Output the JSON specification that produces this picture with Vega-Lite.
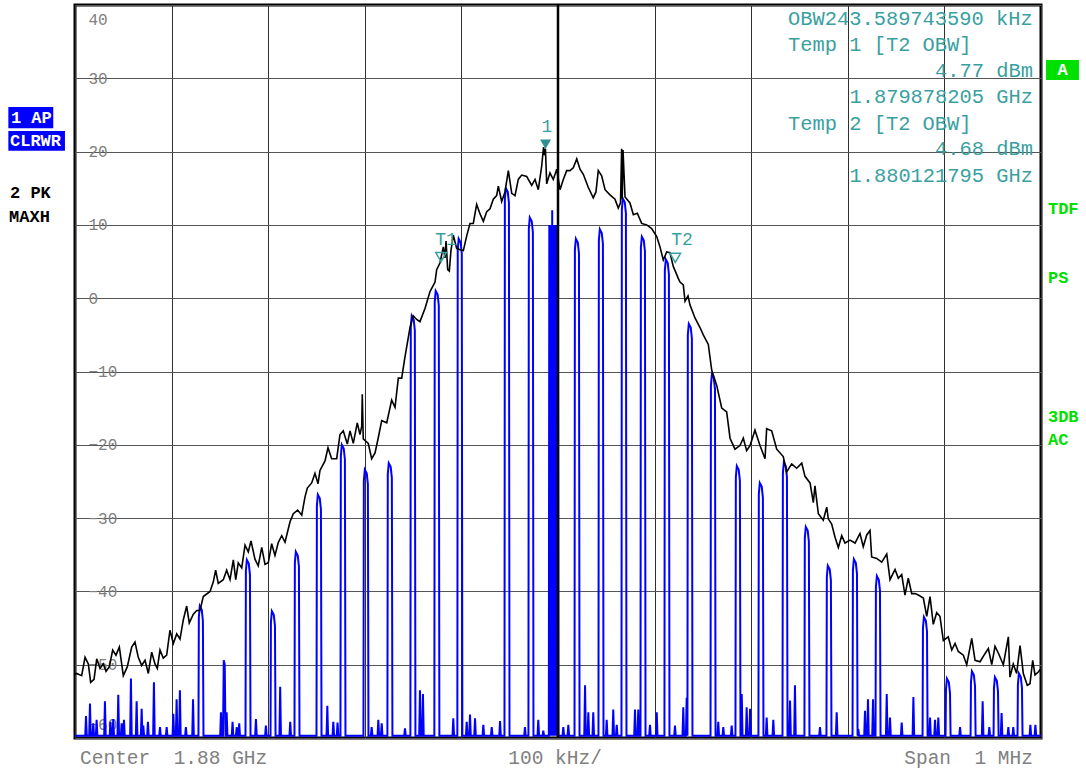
{
"$schema": "https://vega.github.io/schema/vega-lite/v6.json",
"width": 966, "height": 733,
"autosize": {"type": "none"},
"padding": {"left": 75, "top": 5, "right": 45, "bottom": 31},
"background": "white",
"config": {"view": {"stroke": "black", "strokeWidth": 3}, "font": "Liberation Mono"},
"datasets": {
"clrwr": [
{"f":-500,"p":-59.7},
{"f":-489.4,"p":-59.7},{"f":-488.6,"p":-57},{"f":-487.8,"p":-59.7},
{"f":-485.3,"p":-59.7},{"f":-484.5,"p":-55.3},{"f":-483.7,"p":-59.7},
{"f":-481.9,"p":-59.7},{"f":-481.1,"p":-58},{"f":-480.3,"p":-59.7},
{"f":-478.4,"p":-59.7},{"f":-477.6,"p":-57.5},{"f":-476.8,"p":-59.7},
{"f":-469.8,"p":-59.7},{"f":-469,"p":-55},{"f":-468.2,"p":-59.7},
{"f":-464.1,"p":-59.7},{"f":-463.3,"p":-57.8},{"f":-462.5,"p":-59.7},
{"f":-461.2,"p":-59.7},{"f":-460.4,"p":-57.4},{"f":-459.6,"p":-59.7},
{"f":-456,"p":-59.7},{"f":-455.2,"p":-54.1},{"f":-454.4,"p":-59.7},
{"f":-452.5,"p":-59.7},{"f":-451.7,"p":-58},{"f":-450.9,"p":-59.7},
{"f":-450.1,"p":-59.7},{"f":-449.3,"p":-57.5},{"f":-448.5,"p":-59.7},
{"f":-442.9,"p":-59.7},{"f":-442.1,"p":-51.9},{"f":-441.3,"p":-59.7},
{"f":-437,"p":-59.7},{"f":-436.2,"p":-55},{"f":-435.4,"p":-59.7},
{"f":-431.8,"p":-59.7},{"f":-431,"p":-56},{"f":-430.2,"p":-59.7},
{"f":-430.1,"p":-59.7},{"f":-429.3,"p":-58.3},{"f":-428.5,"p":-59.7},
{"f":-425.3,"p":-59.7},{"f":-424.5,"p":-57.8},{"f":-423.7,"p":-59.7},
{"f":-419.1,"p":-59.7},{"f":-418.3,"p":-52.4},{"f":-417.5,"p":-59.7},
{"f":-412.8,"p":-59.7},{"f":-412,"p":-58.5},{"f":-411.2,"p":-59.7},
{"f":-405.9,"p":-59.7},{"f":-405.1,"p":-58.5},{"f":-404.3,"p":-59.7},
{"f":-399,"p":-59.7},{"f":-398.2,"p":-56.7},{"f":-397.4,"p":-59.7},
{"f":-395.6,"p":-59.7},{"f":-394.8,"p":-54.7},{"f":-394,"p":-59.7},
{"f":-392.2,"p":-59.7},{"f":-391.4,"p":-53.5},{"f":-390.6,"p":-59.7},
{"f":-386,"p":-59.7},{"f":-385.2,"p":-58.5},{"f":-384.4,"p":-59.7},
{"f":-378.6,"p":-59.7},{"f":-377.8,"p":-54.7},{"f":-377,"p":-59.7},
{"f":-372.2,"p":-59.7},{"f":-371.8,"p":-43.5},{"f":-370.8,"p":-42},{"f":-368.8,"p":-42.5},{"f":-367.6,"p":-44},{"f":-367,"p":-59.7},
{"f":-349.7,"p":-59.7},{"f":-348.9,"p":-56.5},{"f":-348.1,"p":-59.7},
{"f":-346.8,"p":-59.7},{"f":-346,"p":-49.4},{"f":-345,"p":-50},{"f":-344.2,"p":-59.7},
{"f":-343.8,"p":-59.7},{"f":-343,"p":-56.5},{"f":-342.2,"p":-59.7},
{"f":-337.7,"p":-59.7},{"f":-336.9,"p":-57.8},{"f":-336.1,"p":-59.7},
{"f":-333.4,"p":-59.7},{"f":-332.6,"p":-58.5},{"f":-331.8,"p":-59.7},
{"f":-330.8,"p":-59.7},{"f":-330,"p":-58},{"f":-329.2,"p":-59.7},
{"f":-323.5,"p":-59.7},{"f":-323.1,"p":-37.2},{"f":-322.1,"p":-35.7},{"f":-320.1,"p":-36.2},{"f":-318.9,"p":-37.7},{"f":-318.3,"p":-59.7},
{"f":-313.5,"p":-59.7},{"f":-312.7,"p":-57.4},{"f":-311.9,"p":-59.7},
{"f":-303.2,"p":-59.7},{"f":-302.4,"p":-58.3},{"f":-301.6,"p":-59.7},
{"f":-297.6,"p":-59.7},{"f":-297.2,"p":-44.2},{"f":-296.2,"p":-42.7},{"f":-294.2,"p":-43.2},{"f":-293,"p":-44.7},{"f":-292.4,"p":-59.7},
{"f":-288.4,"p":-59.7},{"f":-287.6,"p":-53},{"f":-286.8,"p":-59.7},
{"f":-278,"p":-59.7},{"f":-277.2,"p":-57.8},{"f":-276.4,"p":-59.7},
{"f":-272.8,"p":-59.7},{"f":-272.4,"p":-36.1},{"f":-271.4,"p":-34.6},{"f":-269.4,"p":-35.1},{"f":-268.2,"p":-36.6},{"f":-267.6,"p":-59.7},
{"f":-250,"p":-59.7},{"f":-249.6,"p":-28.3},{"f":-248.6,"p":-26.8},{"f":-246.6,"p":-27.3},{"f":-245.4,"p":-28.8},{"f":-244.8,"p":-59.7},
{"f":-239.6,"p":-59.7},{"f":-238.8,"p":-55.6},{"f":-238,"p":-59.7},
{"f":-233.4,"p":-59.7},{"f":-232.6,"p":-57.8},{"f":-231.8,"p":-59.7},
{"f":-229,"p":-59.7},{"f":-228.2,"p":-57.9},{"f":-227.4,"p":-59.7},
{"f":-225.2,"p":-59.7},{"f":-224.8,"p":-21.5},{"f":-223.8,"p":-20},{"f":-221.8,"p":-20.5},{"f":-220.6,"p":-22},{"f":-220,"p":-59.7},
{"f":-201.4,"p":-59.7},{"f":-201,"p":-24.9},{"f":-200,"p":-23.4},{"f":-198,"p":-23.9},{"f":-196.8,"p":-25.4},{"f":-196.2,"p":-59.7},
{"f":-193.7,"p":-59.7},{"f":-192.9,"p":-58.5},{"f":-192.1,"p":-59.7},
{"f":-186.8,"p":-59.7},{"f":-186,"p":-57.5},{"f":-185.2,"p":-59.7},
{"f":-183.3,"p":-59.7},{"f":-182.5,"p":-58},{"f":-181.7,"p":-59.7},
{"f":-176.6,"p":-59.7},{"f":-176.2,"p":-24},{"f":-175.2,"p":-22.5},{"f":-173.2,"p":-23},{"f":-172,"p":-24.5},{"f":-171.4,"p":-59.7},
{"f":-159.2,"p":-59.7},{"f":-158.4,"p":-58.7},{"f":-157.6,"p":-59.7},
{"f":-152.8,"p":-59.7},{"f":-152.4,"p":-3.9},{"f":-151.4,"p":-2.4},{"f":-149.4,"p":-2.9},{"f":-148.2,"p":-4.4},{"f":-147.6,"p":-59.7},
{"f":-143.7,"p":-59.7},{"f":-142.9,"p":-53.5},{"f":-142.1,"p":-59.7},
{"f":-140.6,"p":-59.7},{"f":-139.8,"p":-54},{"f":-139,"p":-59.7},
{"f":-128,"p":-59.7},{"f":-127.6,"p":-0.5},{"f":-126.6,"p":1},{"f":-124.6,"p":0.5},{"f":-123.4,"p":-1},{"f":-122.8,"p":-59.7},
{"f":-109.2,"p":-59.7},{"f":-108.4,"p":-57.3},{"f":-107.6,"p":-59.7},
{"f":-104.2,"p":-59.7},{"f":-103.8,"p":6.6},{"f":-102.8,"p":8.1},{"f":-100.8,"p":7.6},{"f":-99.6,"p":6.1},{"f":-99,"p":-59.7},
{"f":-95.3,"p":-59.7},{"f":-94.5,"p":-57.8},{"f":-93.7,"p":-59.7},
{"f":-91.9,"p":-59.7},{"f":-91.1,"p":-56.8},{"f":-90.3,"p":-59.7},
{"f":-86.7,"p":-59.7},{"f":-85.9,"p":-57.3},{"f":-85.1,"p":-59.7},
{"f":-78.1,"p":-59.7},{"f":-77.3,"p":-58.2},{"f":-76.5,"p":-59.7},
{"f":-69.4,"p":-59.7},{"f":-68.6,"p":-58.5},{"f":-67.8,"p":-59.7},
{"f":-60.8,"p":-59.7},{"f":-60,"p":-57.7},{"f":-59.2,"p":-59.7},
{"f":-55.4,"p":-59.7},{"f":-55,"p":13.5},{"f":-54,"p":15},{"f":-52,"p":14.5},{"f":-50.8,"p":13},{"f":-50.2,"p":-59.7},
{"f":-35,"p":-59.7},{"f":-34.2,"p":-58.5},{"f":-33.4,"p":-59.7},
{"f":-30.6,"p":-59.7},{"f":-30.2,"p":9.5},{"f":-29.2,"p":11},{"f":-27.2,"p":10.5},{"f":-26,"p":9},{"f":-25.4,"p":-59.7},
{"f":-21.2,"p":-59.7},{"f":-20.4,"p":-57.5},{"f":-19.6,"p":-59.7},
{"f":-16,"p":-59.7},{"f":-15.2,"p":-59},{"f":-14.4,"p":-59.7},
{"f":-9.5,"p":-59.7},{"f":-9,"p":10},{"f":-8.5,"p":-59.7},{"f":-8,"p":10},{"f":-7.5,"p":-59.7},{"f":-7,"p":10},{"f":-6.5,"p":-59.7},{"f":-6,"p":12},{"f":-5.5,"p":-59.7},{"f":-5,"p":10},{"f":-4.5,"p":-59.7},{"f":-4,"p":10},{"f":-3.5,"p":-59.7},{"f":-3,"p":10},{"f":-2.5,"p":-59.7},{"f":-2,"p":10},{"f":-1.5,"p":-59.7},{"f":-1,"p":10},{"f":-0.5,"p":-59.7},{"f":0,"p":10},{"f":0.5,"p":-59.7},
{"f":4.7,"p":-59.7},{"f":5.5,"p":-58.5},{"f":6.3,"p":-59.7},
{"f":9.9,"p":-59.7},{"f":10.7,"p":-58.2},{"f":11.5,"p":-59.7},
{"f":17.1,"p":-59.7},{"f":17.5,"p":6.6},{"f":18.5,"p":8.1},{"f":20.5,"p":7.6},{"f":21.7,"p":6.1},{"f":22.3,"p":-59.7},
{"f":27.2,"p":-59.7},{"f":28,"p":-52.8},{"f":28.8,"p":-59.7},
{"f":30.6,"p":-59.7},{"f":31.4,"p":-56.5},{"f":32.2,"p":-59.7},
{"f":35.7,"p":-59.7},{"f":36.5,"p":-56.5},{"f":37.3,"p":-59.7},
{"f":41.9,"p":-59.7},{"f":42.3,"p":7.9},{"f":43.3,"p":9.4},{"f":45.3,"p":8.9},{"f":46.5,"p":7.4},{"f":47.1,"p":-59.7},
{"f":49.6,"p":-59.7},{"f":50.4,"p":-57.5},{"f":51.2,"p":-59.7},
{"f":56.4,"p":-59.7},{"f":57.2,"p":-56.1},{"f":58,"p":-59.7},
{"f":60,"p":-59.7},{"f":60.8,"p":-58.2},{"f":61.6,"p":-59.7},
{"f":65.7,"p":-59.7},{"f":66.1,"p":12.1},{"f":67.1,"p":13.6},{"f":69.1,"p":13.1},{"f":70.3,"p":11.6},{"f":70.9,"p":-59.7},
{"f":78.9,"p":-59.7},{"f":79.7,"p":-56.1},{"f":80.5,"p":-59.7},
{"f":82.3,"p":-59.7},{"f":83.1,"p":-56.1},{"f":83.9,"p":-59.7},
{"f":85.4,"p":-59.7},{"f":85.8,"p":6.9},{"f":86.8,"p":8.4},{"f":88.8,"p":7.9},{"f":90,"p":6.4},{"f":90.6,"p":-59.7},
{"f":94.4,"p":-59.7},{"f":95.2,"p":-58.2},{"f":96,"p":-59.7},
{"f":101.4,"p":-59.7},{"f":102.2,"p":-56.5},{"f":103,"p":-59.7},
{"f":110.2,"p":-59.7},{"f":110.6,"p":3.8},{"f":111.6,"p":5.3},{"f":113.6,"p":4.8},{"f":114.8,"p":3.3},{"f":115.4,"p":-59.7},
{"f":120.3,"p":-59.7},{"f":121.1,"p":-58.3},{"f":121.9,"p":-59.7},
{"f":128.9,"p":-59.7},{"f":129.7,"p":-55.8},{"f":130.5,"p":-59.7},
{"f":132.4,"p":-59.7},{"f":133.2,"p":-54.5},{"f":134,"p":-59.7},
{"f":134.4,"p":-5},{"f":135.4,"p":-3.5},{"f":137.4,"p":-4},{"f":138.6,"p":-5.5},{"f":139.2,"p":-59.7},
{"f":157.9,"p":-59.7},{"f":158.3,"p":-11.9},{"f":159.3,"p":-10.4},{"f":161.3,"p":-10.9},{"f":162.5,"p":-12.4},{"f":163.1,"p":-59.7},
{"f":165.1,"p":-59.7},{"f":165.9,"p":-57.8},{"f":166.7,"p":-59.7},
{"f":170.3,"p":-59.7},{"f":171.1,"p":-58.5},{"f":171.9,"p":-59.7},
{"f":179,"p":-59.7},{"f":179.8,"p":-58.3},{"f":180.6,"p":-59.7},
{"f":183.7,"p":-59.7},{"f":184.1,"p":-24.4},{"f":185.1,"p":-22.9},{"f":187.1,"p":-23.4},{"f":188.3,"p":-24.9},{"f":188.9,"p":-59.7},
{"f":189.4,"p":-59.7},{"f":190.2,"p":-54},{"f":191,"p":-59.7},
{"f":194.5,"p":-59.7},{"f":195.3,"p":-55.8},{"f":196.1,"p":-59.7},
{"f":198,"p":-59.7},{"f":198.8,"p":-56},{"f":199.6,"p":-59.7},
{"f":207.5,"p":-59.7},{"f":207.9,"p":-26.7},{"f":208.9,"p":-25.2},{"f":210.9,"p":-25.7},{"f":212.1,"p":-27.2},{"f":212.7,"p":-59.7},
{"f":215.2,"p":-59.7},{"f":216,"p":-57.2},{"f":216.8,"p":-59.7},
{"f":222.1,"p":-59.7},{"f":222.9,"p":-57.5},{"f":223.7,"p":-59.7},
{"f":232.4,"p":-59.7},{"f":232.8,"p":-23.9},{"f":233.8,"p":-22.4},{"f":235.8,"p":-22.9},{"f":237,"p":-24.4},{"f":237.6,"p":-59.7},
{"f":239.4,"p":-59.7},{"f":240.2,"p":-54.9},{"f":241,"p":-59.7},
{"f":244.5,"p":-59.7},{"f":245.3,"p":-52.8},{"f":246.1,"p":-59.7},
{"f":255.1,"p":-59.7},{"f":255.5,"p":-32.7},{"f":256.5,"p":-31.2},{"f":258.5,"p":-31.7},{"f":259.7,"p":-33.2},{"f":260.3,"p":-59.7},
{"f":270.4,"p":-59.7},{"f":271.2,"p":-58.5},{"f":272,"p":-59.7},
{"f":277.9,"p":-59.7},{"f":278.3,"p":-38},{"f":279.3,"p":-36.5},{"f":281.3,"p":-37},{"f":282.5,"p":-38.5},{"f":283.1,"p":-59.7},
{"f":287.7,"p":-59.7},{"f":288.5,"p":-56.5},{"f":289.3,"p":-59.7},
{"f":304.9,"p":-59.7},{"f":305.3,"p":-37.1},{"f":306.3,"p":-35.6},{"f":308.3,"p":-36.1},{"f":309.5,"p":-37.6},{"f":310.1,"p":-59.7},
{"f":310.9,"p":-58.8},{"f":311.7,"p":-59.7},
{"f":317,"p":-59.7},{"f":317.8,"p":-56.3},{"f":318.6,"p":-59.7},
{"f":320.1,"p":-59.7},{"f":320.9,"p":-54.7},{"f":321.7,"p":-59.7},
{"f":325.3,"p":-59.7},{"f":326.1,"p":-54.7},{"f":326.9,"p":-59.7},
{"f":328.7,"p":-59.7},{"f":329.1,"p":-39.4},{"f":330.1,"p":-37.9},{"f":332.1,"p":-38.4},{"f":333.3,"p":-39.9},{"f":333.9,"p":-59.7},
{"f":339.5,"p":-59.7},{"f":340.3,"p":-54},{"f":341.1,"p":-59.7},
{"f":342.9,"p":-59.7},{"f":343.7,"p":-57.2},{"f":344.5,"p":-59.7},
{"f":355,"p":-59.7},{"f":355.8,"p":-57.9},{"f":356.6,"p":-59.7},
{"f":367.1,"p":-59.7},{"f":367.9,"p":-54.4},{"f":368.7,"p":-59.7},
{"f":377.4,"p":-59.7},{"f":377.8,"p":-45},{"f":378.8,"p":-43.5},{"f":380.8,"p":-44},{"f":382,"p":-45.5},{"f":382.6,"p":-59.7},
{"f":384.3,"p":-59.7},{"f":385.1,"p":-57.2},{"f":385.9,"p":-59.7},
{"f":389.5,"p":-59.7},{"f":390.3,"p":-57.5},{"f":391.1,"p":-59.7},
{"f":392.9,"p":-59.7},{"f":393.7,"p":-57.2},{"f":394.5,"p":-59.7},
{"f":401.2,"p":-59.7},{"f":401.6,"p":-53.4},{"f":402.6,"p":-51.9},{"f":404.6,"p":-52.4},{"f":405.8,"p":-53.9},{"f":406.4,"p":-59.7},
{"f":415.4,"p":-59.7},{"f":416.2,"p":-58.5},{"f":417,"p":-59.7},
{"f":427.1,"p":-59.7},{"f":427.5,"p":-52.4},{"f":428.5,"p":-50.9},{"f":430.5,"p":-51.4},{"f":431.7,"p":-52.9},{"f":432.3,"p":-59.7},
{"f":438.8,"p":-59.7},{"f":439.6,"p":-55},{"f":440.4,"p":-59.7},
{"f":445.7,"p":-59.7},{"f":446.5,"p":-58.5},{"f":447.3,"p":-59.7},
{"f":450.9,"p":-59.7},{"f":451.3,"p":-53.2},{"f":452.3,"p":-51.7},{"f":454.3,"p":-52.2},{"f":455.5,"p":-53.7},{"f":456.1,"p":-59.7},
{"f":458.4,"p":-59.7},{"f":459.2,"p":-56.6},{"f":460,"p":-59.7},
{"f":465.4,"p":-59.7},{"f":466.2,"p":-58.5},{"f":467,"p":-59.7},
{"f":470.5,"p":-59.7},{"f":471.3,"p":-58.5},{"f":472.1,"p":-59.7},
{"f":475.7,"p":-59.7},{"f":476.1,"p":-52.7},{"f":477.1,"p":-51.2},{"f":479.1,"p":-51.7},{"f":480.3,"p":-53.2},{"f":480.9,"p":-59.7},
{"f":488.2,"p":-59.7},{"f":489,"p":-58.2},{"f":489.8,"p":-59.7},
{"f":493.4,"p":-59.7},{"f":494.2,"p":-58.2},{"f":495,"p":-59.7},
{"f":500,"p":-59.7}
],
"maxh": [
{"f":-500,"p":-51.3},{"f":-498.2,"p":-51.2},{"f":-493.1,"p":-51.5},{"f":-489.6,"p":-49},{"f":-486.2,"p":-49.9},{"f":-483.8,"p":-52.4},{"f":-480.3,"p":-52},{"f":-477.5,"p":-49.2},{"f":-474.1,"p":-50.5},{"f":-470.7,"p":-49.9},{"f":-467.9,"p":-50.9},{"f":-464.5,"p":-50.3},{"f":-461,"p":-48},{"f":-457.6,"p":-48.7},{"f":-454.1,"p":-47.6},{"f":-450,"p":-51.5},{"f":-445.9,"p":-50.3},{"f":-441.3,"p":-47.6},{"f":-437.9,"p":-46.9},{"f":-434.5,"p":-49},{"f":-431,"p":-50.1},{"f":-427.5,"p":-49.4},{"f":-424.1,"p":-51.2},{"f":-420.6,"p":-48.3},{"f":-417.2,"p":-49.9},{"f":-414.8,"p":-50.5},{"f":-412,"p":-48},{"f":-408.6,"p":-49.1},{"f":-405.1,"p":-48.7},{"f":-401.7,"p":-45.3},{"f":-398.2,"p":-47.1},{"f":-394.7,"p":-45.8},{"f":-391.3,"p":-46.5},{"f":-387.9,"p":-43.9},{"f":-384.4,"p":-42},{"f":-381.7,"p":-44.3},{"f":-377.5,"p":-43.1},{"f":-374,"p":-42.6},{"f":-370.6,"p":-42.6},{"f":-367.2,"p":-40.7},{"f":-360.2,"p":-40},{"f":-356.8,"p":-38.7},{"f":-354.4,"p":-37.1},{"f":-351.7,"p":-38.9},{"f":-346.5,"p":-38.4},{"f":-343,"p":-37.1},{"f":-339.5,"p":-38.4},{"f":-336.1,"p":-35.7},{"f":-333.6,"p":-38.4},{"f":-331,"p":-36.1},{"f":-327.4,"p":-36.8},{"f":-324,"p":-33.7},{"f":-320.6,"p":-34.6},{"f":-317.8,"p":-33.1},{"f":-313.7,"p":-35.6},{"f":-310.3,"p":-36.5},{"f":-306.7,"p":-34},{"f":-303.3,"p":-36.3},{"f":-299.9,"p":-36.1},{"f":-296.4,"p":-33.5},{"f":-293,"p":-35.1},{"f":-289.5,"p":-33.3},{"f":-286,"p":-32.4},{"f":-282.6,"p":-33.3},{"f":-277.4,"p":-30.5},{"f":-274,"p":-29.4},{"f":-269.5,"p":-28.9},{"f":-265.3,"p":-29.6},{"f":-261.9,"p":-27.1},{"f":-259.5,"p":-25.9},{"f":-255,"p":-25.2},{"f":-251.6,"p":-23.9},{"f":-248.4,"p":-25.3},{"f":-246.4,"p":-23.5},{"f":-241.2,"p":-22.2},{"f":-238.1,"p":-20.4},{"f":-234.3,"p":-21.9},{"f":-229.1,"p":-21.9},{"f":-225.7,"p":-18.6},{"f":-222.3,"p":-18.1},{"f":-218.1,"p":-19.9},{"f":-215.3,"p":-18.1},{"f":-211.9,"p":-19.8},{"f":-207.8,"p":-17},{"f":-205,"p":-18.6},{"f":-203.2,"p":-17.5},{"f":-202.6,"p":-13.1},{"f":-201.6,"p":-19.2},{"f":-196.4,"p":-19.8},{"f":-192.9,"p":-21.9},{"f":-189.4,"p":-21.1},{"f":-186,"p":-19},{"f":-182.5,"p":-16.7},{"f":-177.3,"p":-17},{"f":-172.2,"p":-13.9},{"f":-168.7,"p":-14.9},{"f":-165.3,"p":-10.9},{"f":-161.8,"p":-10.9},{"f":-158.4,"p":-8},{"f":-153.2,"p":-4},{"f":-149.8,"p":-2.4},{"f":-146.3,"p":-2.9},{"f":-142.9,"p":-3.2},{"f":-137.7,"p":-1.4},{"f":-132.5,"p":0.9},{"f":-127.3,"p":2.2},{"f":-125.6,"p":3.9},{"f":-122.2,"p":4.8},{"f":-118.7,"p":7},{"f":-117,"p":5.5},{"f":-115.9,"p":7.8},{"f":-114.2,"p":3.9},{"f":-112.5,"p":3.7},{"f":-110.8,"p":6.5},{"f":-108.4,"p":8.6},{"f":-104.9,"p":6.8},{"f":-101.4,"p":6.6},{"f":-98,"p":6.5},{"f":-94.5,"p":8.5},{"f":-91.1,"p":10.2},{"f":-87.7,"p":10.2},{"f":-84.2,"p":12.8},{"f":-80.7,"p":11.5},{"f":-77.3,"p":10.5},{"f":-73.8,"p":11.8},{"f":-70.4,"p":12.2},{"f":-67,"p":13.5},{"f":-63.5,"p":14},{"f":-61.8,"p":15.3},{"f":-58.3,"p":13.2},{"f":-54.9,"p":14.5},{"f":-51.4,"p":17.4},{"f":-47.9,"p":14.3},{"f":-44.5,"p":14},{"f":-41.1,"p":16.2},{"f":-37.6,"p":16.8},{"f":-32.4,"p":16.6},{"f":-27.2,"p":15.4},{"f":-23.8,"p":16.2},{"f":-20.4,"p":14.8},{"f":-16.9,"p":18},{"f":-15,"p":20.6},{"f":-14,"p":19.5},{"f":-13,"p":20.4},{"f":-11.7,"p":15.6},{"f":-8.3,"p":17.1},{"f":-4.9,"p":16.2},{"f":-1.3,"p":17.6},{"f":2.1,"p":14.8},{"f":5.5,"p":16.2},{"f":9,"p":17.4},{"f":12.4,"p":17.4},{"f":15.8,"p":17.8},{"f":19.4,"p":19},{"f":22.8,"p":17.6},{"f":26.2,"p":16.9},{"f":31.4,"p":15.1},{"f":36.5,"p":13.7},{"f":39.3,"p":14.5},{"f":41.7,"p":17.4},{"f":45.2,"p":16.7},{"f":48.7,"p":14.8},{"f":53.8,"p":14.1},{"f":59,"p":13.5},{"f":62.4,"p":12.3},{"f":64.7,"p":13},{"f":65.9,"p":20.4},{"f":66.5,"p":13.5},{"f":67.3,"p":20.2},{"f":69.4,"p":13.8},{"f":74.5,"p":13},{"f":78,"p":11.4},{"f":82.1,"p":11.6},{"f":86.6,"p":10.2},{"f":91.8,"p":10},{"f":97,"p":9.5},{"f":102.2,"p":8.4},{"f":105.6,"p":7},{"f":109,"p":5.2},{"f":112.5,"p":6.3},{"f":115.9,"p":6.2},{"f":119.4,"p":4.3},{"f":121.1,"p":3.8},{"f":124.5,"p":2.7},{"f":126.3,"p":2.2},{"f":129.7,"p":1.8},{"f":131.5,"p":-0.4},{"f":134.6,"p":0.3},{"f":136.6,"p":-0.9},{"f":141.8,"p":-2.7},{"f":147,"p":-4},{"f":150.4,"p":-5},{"f":155.6,"p":-6.3},{"f":159.1,"p":-9.8},{"f":164.3,"p":-11.9},{"f":169.5,"p":-15},{"f":174.6,"p":-15.5},{"f":178.1,"p":-19.1},{"f":183.2,"p":-20.6},{"f":188.4,"p":-20.1},{"f":191.8,"p":-19.1},{"f":195.3,"p":-20.8},{"f":198.8,"p":-20.1},{"f":203.9,"p":-18},{"f":209.1,"p":-20.1},{"f":214.3,"p":-21.9},{"f":216,"p":-17.8},{"f":221.2,"p":-18.1},{"f":226.4,"p":-20.6},{"f":233.2,"p":-21.6},{"f":236.7,"p":-23.7},{"f":241.9,"p":-22.6},{"f":247.1,"p":-23.2},{"f":252.3,"p":-22.5},{"f":255.7,"p":-24.3},{"f":260.9,"p":-25.2},{"f":264.3,"p":-27.9},{"f":266,"p":-25.6},{"f":269.5,"p":-29.4},{"f":274.6,"p":-30.3},{"f":278.2,"p":-28.5},{"f":279.8,"p":-30.1},{"f":283.3,"p":-30.8},{"f":286.8,"p":-32.6},{"f":290.2,"p":-34},{"f":293.7,"p":-32.4},{"f":297.1,"p":-33.4},{"f":302.3,"p":-33},{"f":307.5,"p":-33.4},{"f":312.6,"p":-32.1},{"f":316,"p":-33.9},{"f":319.6,"p":-32.3},{"f":323,"p":-31.7},{"f":324.7,"p":-35.3},{"f":329.9,"p":-35.5},{"f":335.1,"p":-36},{"f":340.3,"p":-34.9},{"f":343.7,"p":-38.4},{"f":348.9,"p":-37},{"f":352.3,"p":-38.2},{"f":355.8,"p":-37.7},{"f":359.2,"p":-40.5},{"f":362.6,"p":-38.2},{"f":366.2,"p":-40.3},{"f":369.6,"p":-40.3},{"f":373,"p":-40.5},{"f":378.2,"p":-40.9},{"f":381.7,"p":-43.4},{"f":385.1,"p":-40.7},{"f":388.5,"p":-44.5},{"f":392,"p":-42.9},{"f":395.4,"p":-43.4},{"f":398.9,"p":-46.7},{"f":404,"p":-46.2},{"f":407.6,"p":-48},{"f":411,"p":-47.1},{"f":414.4,"p":-48.2},{"f":419.6,"p":-48.7},{"f":423.1,"p":-50},{"f":428.3,"p":-46.4},{"f":431.7,"p":-49.4},{"f":436.9,"p":-49.6},{"f":442,"p":-48.5},{"f":445.5,"p":-47.8},{"f":449,"p":-50},{"f":452.4,"p":-47.5},{"f":455.8,"p":-48.4},{"f":461,"p":-50},{"f":466.2,"p":-46.2},{"f":467.9,"p":-51.7},{"f":471.3,"p":-49.9},{"f":474.8,"p":-51.2},{"f":478.3,"p":-47.4},{"f":481.7,"p":-51.2},{"f":485.8,"p":-52.8},{"f":488.6,"p":-52.6},{"f":491.4,"p":-49.4},{"f":493.8,"p":-51.4},{"f":497.2,"p":-51},{"f":500,"p":-50.5}
]
},
"layer": [
{"data": {"name": "clrwr"},
 "mark": {"type": "line", "color": "#0000ff", "strokeWidth": 2, "clip": true},
 "encoding": {
  "x": {"field": "f", "type": "quantitative", "scale": {"domain": [-500, 500], "nice": false, "zero": false},
        "axis": {"values": [-500,-400,-300,-200,-100,0,100,200,300,400,500], "grid": true, "gridColor": "#303030", "gridWidth": 1, "labels": false, "ticks": false, "domain": false, "title": null}},
  "y": {"field": "p", "type": "quantitative", "scale": {"domain": [-60, 40], "nice": false, "zero": false},
        "axis": {"values": [-60,-50,-40,-30,-20,-10,0,10,20,30,40], "grid": true, "gridColor": "#555555", "gridWidth": 1, "ticks": false, "tickSize": 0, "domain": false, "title": null,
                 "labelAlign": "left", "labelPadding": -13, "labelFont": "Liberation Mono", "labelFontSize": 16, "labelColor": "#808080",
                 "labelOffset": {"condition": [{"test": "datum.value == 40", "value": 14}, {"test": "datum.value == -60", "value": -14}], "value": 0}}}
 }},
{"data": {"name": "maxh"},
 "mark": {"type": "line", "color": "#000000", "strokeWidth": 1.6, "clip": true},
 "encoding": {"x": {"field": "f", "type": "quantitative"}, "y": {"field": "p", "type": "quantitative"}}},
{"data": {"values": [{}]},
 "mark": {"type": "rule", "color": "#000000", "strokeWidth": 2.5},
 "encoding": {"x": {"datum": 0}}},
{"data": {"values": [{}]},
 "mark": {"type": "point", "shape": "triangle-down", "filled": true, "color": "#2f9090", "size": 120, "opacity": 1},
 "encoding": {"x": {"datum": -12.9}, "y": {"datum": 21.0}}},
{"data": {"values": [{}]},
 "mark": {"type": "point", "shape": "triangle-down", "filled": false, "color": "#3a9f9f", "strokeWidth": 1.5, "size": 110, "opacity": 1},
 "encoding": {"x": {"datum": -121.1}, "y": {"datum": 5.6}}},
{"data": {"values": [{}]},
 "mark": {"type": "point", "shape": "triangle-down", "filled": false, "color": "#3a9f9f", "strokeWidth": 1.5, "size": 110, "opacity": 1},
 "encoding": {"x": {"datum": 121.4}, "y": {"datum": 5.5}}},
{"data": {"values": [{}]},
 "mark": {"type": "text", "text": "1", "font": "Liberation Mono", "fontSize": 18, "color": "#3a9f9f", "align": "center", "baseline": "middle"},
 "encoding": {"x": {"datum": -11.4}, "y": {"datum": 23.4}}},
{"data": {"values": [{}]},
 "mark": {"type": "text", "text": "T1", "font": "Liberation Mono", "fontSize": 18, "color": "#3a9f9f", "align": "center", "baseline": "middle"},
 "encoding": {"x": {"datum": -116}, "y": {"datum": 7.9}}},
{"data": {"values": [{}]},
 "mark": {"type": "text", "text": "T2", "font": "Liberation Mono", "fontSize": 18, "color": "#3a9f9f", "align": "center", "baseline": "middle"},
 "encoding": {"x": {"datum": 128.4}, "y": {"datum": 7.9}}},
{"data": {"values": [{}]},
 "mark": {"type": "text", "text": ["OBW243.589743590 kHz", "Temp 1 [T2 OBW]"],
          "font": "Liberation Mono", "fontSize": 20.4, "lineHeight": 26.1, "color": "#3a9f9f", "align": "left", "baseline": "alphabetic"},
 "encoding": {"x": {"datum": 238.1}, "y": {"datum": 37.27}}},
{"data": {"values": [{}]},
 "mark": {"type": "text", "text": "Temp 2 [T2 OBW]",
          "font": "Liberation Mono", "fontSize": 20.4, "color": "#3a9f9f", "align": "left", "baseline": "alphabetic"},
 "encoding": {"x": {"datum": 238.1}, "y": {"datum": 22.95}}},
{"data": {"values": [{}]},
 "mark": {"type": "text", "text": ["4.77 dBm", "1.879878205 GHz"],
          "font": "Liberation Mono", "fontSize": 20.4, "lineHeight": 26.1, "color": "#3a9f9f", "align": "right", "baseline": "alphabetic"},
 "encoding": {"x": {"datum": 491.7}, "y": {"datum": 30.15}}},
{"data": {"values": [{}]},
 "mark": {"type": "text", "text": ["4.68 dBm", "1.880121795 GHz"],
          "font": "Liberation Mono", "fontSize": 20.4, "lineHeight": 26.1, "color": "#3a9f9f", "align": "right", "baseline": "alphabetic"},
 "encoding": {"x": {"datum": 491.7}, "y": {"datum": 19.47}}},
{"data": {"values": [{}]},
 "mark": {"type": "rect", "color": "#0000ff"},
 "encoding": {"x": {"datum": -569}, "x2": {"datum": -522.5}, "y": {"datum": 26.08}, "y2": {"datum": 23.2}}},
{"data": {"values": [{}]},
 "mark": {"type": "rect", "color": "#0000ff"},
 "encoding": {"x": {"datum": -569}, "x2": {"datum": -510.4}, "y": {"datum": 22.8}, "y2": {"datum": 20.1}}},
{"data": {"values": [{}]},
 "mark": {"type": "text", "text": "1\u00a0AP", "font": "Liberation Mono", "fontSize": 17, "fontWeight": "bold", "color": "white", "align": "left", "baseline": "middle"},
 "encoding": {"x": {"datum": -566.3}, "y": {"datum": 24.65}}},
{"data": {"values": [{}]},
 "mark": {"type": "text", "text": "CLRWR", "font": "Liberation Mono", "fontSize": 17, "fontWeight": "bold", "color": "white", "align": "left", "baseline": "middle"},
 "encoding": {"x": {"datum": -567.3}, "y": {"datum": 21.45}}},
{"data": {"values": [{}]},
 "mark": {"type": "text", "text": "2\u00a0PK", "font": "Liberation Mono", "fontSize": 17, "fontWeight": "bold", "color": "black", "align": "left", "baseline": "middle"},
 "encoding": {"x": {"datum": -567.3}, "y": {"datum": 14.35}}},
{"data": {"values": [{}]},
 "mark": {"type": "text", "text": "MAXH", "font": "Liberation Mono", "fontSize": 17, "fontWeight": "bold", "color": "black", "align": "left", "baseline": "middle"},
 "encoding": {"x": {"datum": -568.3}, "y": {"datum": 11.08}}},
{"data": {"values": [{}]},
 "mark": {"type": "rect", "color": "#00e000"},
 "encoding": {"x": {"datum": 505.2}, "x2": {"datum": 539.3}, "y": {"datum": 32.5}, "y2": {"datum": 29.77}}},
{"data": {"values": [{}]},
 "mark": {"type": "text", "text": "A", "font": "Liberation Mono", "fontSize": 17, "fontWeight": "bold", "color": "white", "align": "center", "baseline": "middle"},
 "encoding": {"x": {"datum": 522.3}, "y": {"datum": 31.13}}},
{"data": {"values": [{}]},
 "mark": {"type": "text", "text": "TDF", "font": "Liberation Mono", "fontSize": 17, "fontWeight": "bold", "color": "#00e000", "align": "left", "baseline": "middle"},
 "encoding": {"x": {"datum": 507.2}, "y": {"datum": 12.17}}},
{"data": {"values": [{}]},
 "mark": {"type": "text", "text": "PS", "font": "Liberation Mono", "fontSize": 17, "fontWeight": "bold", "color": "#00e000", "align": "left", "baseline": "middle"},
 "encoding": {"x": {"datum": 507.2}, "y": {"datum": 2.76}}},
{"data": {"values": [{}]},
 "mark": {"type": "text", "text": "3DB", "font": "Liberation Mono", "fontSize": 17, "fontWeight": "bold", "color": "#00e000", "align": "left", "baseline": "middle"},
 "encoding": {"x": {"datum": 507.2}, "y": {"datum": -16.2}}},
{"data": {"values": [{}]},
 "mark": {"type": "text", "text": "AC", "font": "Liberation Mono", "fontSize": 17, "fontWeight": "bold", "color": "#00e000", "align": "left", "baseline": "middle"},
 "encoding": {"x": {"datum": 507.2}, "y": {"datum": -19.35}}},
{"data": {"values": [{}]},
 "mark": {"type": "text", "text": "Center\u00a0\u00a01.88\u00a0GHz", "font": "Liberation Mono", "fontSize": 19.5, "color": "#808080", "align": "left", "baseline": "alphabetic"},
 "encoding": {"x": {"datum": -494.8}, "y": {"datum": -63.55}}},
{"data": {"values": [{}]},
 "mark": {"type": "text", "text": "100\u00a0kHz/", "font": "Liberation Mono", "fontSize": 19.5, "color": "#808080", "align": "center", "baseline": "alphabetic"},
 "encoding": {"x": {"datum": -3}, "y": {"datum": -63.55}}},
{"data": {"values": [{}]},
 "mark": {"type": "text", "text": "Span\u00a0\u00a01\u00a0MHz", "font": "Liberation Mono", "fontSize": 19.5, "color": "#808080", "align": "right", "baseline": "alphabetic"},
 "encoding": {"x": {"datum": 491.7}, "y": {"datum": -63.55}}}
]
}
